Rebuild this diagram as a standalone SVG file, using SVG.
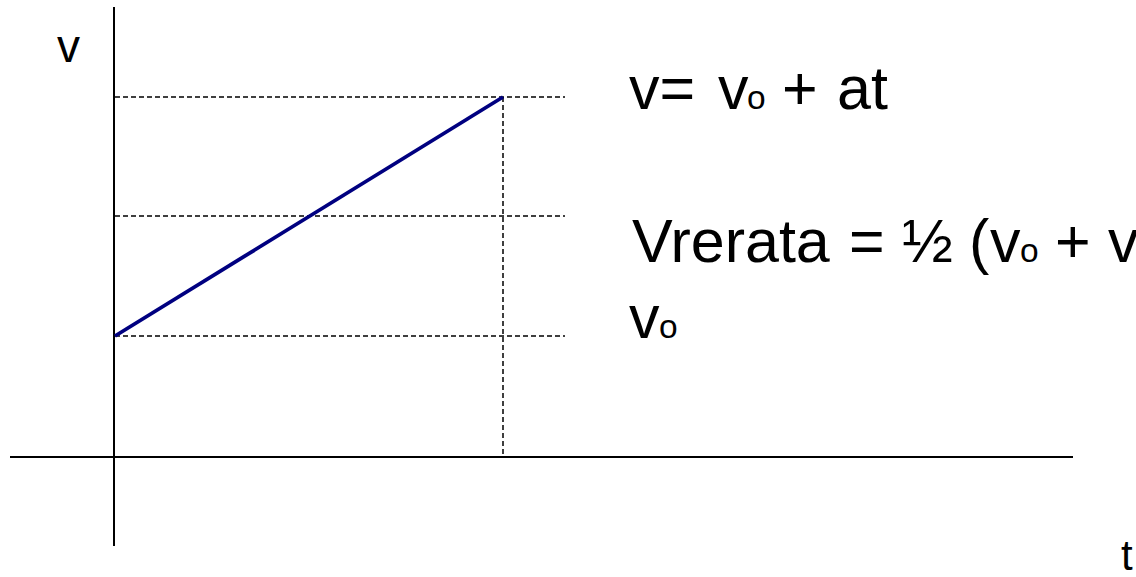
<svg xmlns="http://www.w3.org/2000/svg" width="1136" height="577" viewBox="0 0 1136 577">
<style>
.axis{stroke:#000;stroke-width:2;fill:none}
.dash{stroke:#000;stroke-width:1.5;stroke-dasharray:5 3;fill:none}
.t{font-family:"Liberation Sans",Arial,sans-serif;fill:#000}
.eq{font-size:61px}
.sub{font-size:33.5px}
</style>
<rect width="1136" height="577" fill="#fff"/>
<g id="axes">
<line class="axis" x1="114" y1="7" x2="114" y2="546"/>
<line class="axis" x1="10" y1="457" x2="1073" y2="457"/>
</g>
<g id="guides">
<line class="dash" x1="115" y1="97" x2="565" y2="97"/>
<line class="dash" x1="115" y1="216" x2="565" y2="216"/>
<line class="dash" x1="115" y1="336" x2="565" y2="336"/>
<line class="dash" x1="503" y1="97" x2="503" y2="456"/>
</g>
<g id="connectors">
<line x1="115" y1="336" x2="503" y2="97" stroke="#000080" stroke-width="3.8"/>
</g>
<g id="labels">
<text class="t" x="57" y="62" font-size="46">v</text>
<text class="t" x="1121" y="570" font-size="42">t</text>
<text class="t eq" y="109"><tspan x="629">v=</tspan><tspan x="718">v</tspan><tspan class="sub" x="747">o</tspan><tspan x="782">+</tspan><tspan x="837">at</tspan></text>
<text class="t eq" y="262"><tspan x="632">Vrerata</tspan><tspan x="849">=</tspan><tspan x="902">½</tspan><tspan x="969">(</tspan><tspan x="990">v</tspan><tspan class="sub" x="1020">o</tspan><tspan x="1055">+</tspan><tspan x="1108">v</tspan></text>
<text class="t eq" y="338"><tspan x="629">v</tspan><tspan class="sub" x="659">o</tspan></text>
</g>
</svg>
